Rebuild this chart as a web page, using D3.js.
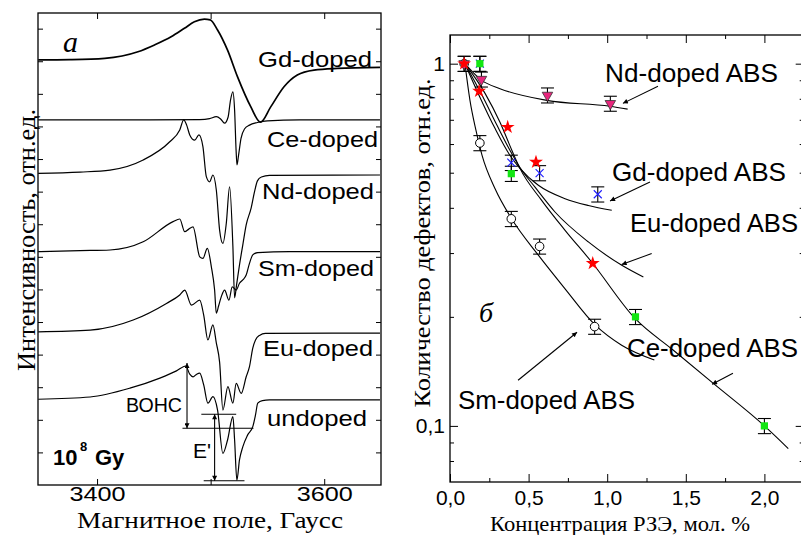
<!DOCTYPE html>
<html>
<head>
<meta charset="utf-8">
<script src="https://cdn.jsdelivr.net/npm/d3@7/dist/d3.min.js"></script>
<style>
body { margin: 0; background: #fff; }
svg { display: block; }
</style>
</head>
<body>
<svg id="fig" width="801" height="535"></svg>
<script>
// ---- Panel a: EPR spectra, [field (G), intensity (arb. units, stacked)]
const gdSpectrum = [[3348.2,13.04],[3376.3,13.05],[3406.8,13.09],[3436.0,13.29],[3450.6,13.50],[3465.2,13.75],[3476.9,14.01],[3485.7,14.21],[3494.5,14.29],[3499.6,14.27],[3506.1,13.96],[3514.9,13.34],[3523.7,12.52],[3535.4,11.60],[3543.9,11.13],[3552.9,11.60],[3564.6,12.22],[3576.3,12.58],[3591.0,12.73],[3611.4,12.78],[3649.1,12.81]];
const ceSpectrum = [[3348.2,11.20],[3446.5,11.20],[3490.4,11.21],[3499.1,11.24],[3505.0,11.30],[3508.8,11.23],[3512.3,11.10],[3515.4,11.29],[3517.5,11.81],[3519.6,12.06],[3521.1,11.50],[3522.4,10.28],[3523.2,9.82],[3524.6,10.12],[3526.8,10.64],[3529.8,10.92],[3534.2,11.04],[3541.2,11.12],[3550.0,11.17],[3578.1,11.20],[3649.1,11.20]];
const ndSpectrum = [[3348.2,9.56],[3385.1,9.60],[3411.4,9.66],[3440.6,9.97],[3464.0,10.53],[3472.8,10.89],[3476.3,11.20],[3478.9,11.04],[3481.6,10.74],[3486.0,10.58],[3489.7,10.74],[3493.2,10.38],[3496.2,9.46],[3499.1,9.30],[3502.0,9.51],[3505.0,9.05],[3507.9,7.82],[3510.8,7.41],[3513.8,8.03],[3516.7,9.15],[3519.6,7.31],[3521.1,5.74],[3522.8,6.13],[3525.4,6.75],[3528.3,7.36],[3531.3,7.98],[3535.7,8.50],[3538.6,8.99],[3541.2,9.33],[3544.7,9.45],[3551.8,9.50],[3649.1,9.51]];
const smSpectrum = [[3348.2,7.16],[3385.1,7.19],[3411.4,7.21],[3440.6,7.46],[3466.9,8.08],[3472.8,8.16],[3477.2,7.77],[3480.7,7.85],[3484.5,7.92],[3490.4,7.00],[3493.2,6.95],[3497.1,7.26],[3500.6,6.70],[3503.5,5.98],[3505.0,5.27],[3507.0,5.49],[3509.4,5.78],[3512.3,5.98],[3516.1,5.67],[3519.0,6.08],[3522.5,5.98],[3525.4,6.19],[3528.3,6.29],[3531.3,6.44],[3534.2,6.80],[3537.1,7.06],[3541.5,7.13],[3569.3,7.16],[3649.1,7.16]];
const euSpectrum = [[3348.2,4.70],[3393.9,4.75],[3431.8,5.06],[3461.1,5.57],[3472.8,5.83],[3477.2,5.98],[3483.1,5.52],[3490.4,5.67],[3493.9,5.21],[3497.6,4.45],[3502.0,4.91],[3505.0,4.36],[3507.9,3.77],[3510.8,2.30],[3515.2,3.02],[3519.6,2.51],[3522.5,3.12],[3526.9,2.81],[3531.3,3.32],[3534.2,3.63],[3537.1,4.20],[3539.5,4.45],[3543.0,4.59],[3548.2,4.65],[3649.1,4.66]];
const undopedSpectrum = [[3348.2,2.63],[3393.9,2.70],[3428.9,2.97],[3455.3,3.28],[3469.9,3.50],[3478.1,3.65],[3481.6,3.40],[3484.5,3.32],[3487.7,3.40],[3490.4,3.43],[3493.9,3.07],[3497.6,2.51],[3502.0,2.71],[3506.1,2.30],[3510.8,0.97],[3514.9,1.38],[3519.6,2.10],[3521.1,1.38],[3523.1,0.15],[3525.4,0.77],[3528.3,1.17],[3532.5,1.53],[3537.1,1.79],[3539.5,2.15],[3541.5,2.51],[3545.6,2.59],[3551.8,2.61],[3649.1,2.61]];
const spectrumNames = ["Gd-doped", "Ce-doped", "Nd-doped", "Sm-doped", "Eu-doped", "undoped"];
const fieldTicks = [3400, 3500, 3600];
const fieldLabels = [3400, 3600];

// BOHC and E' amplitude markers on the undoped spectrum
const bohcField = 3479.2, bohcTop = 3.74, bohcBottom = 1.74, bohcLineEnd = 3537.7;
const ePrimeField = 3503.5, ePrimeTop = 2.17, ePrimeBottom = 0.13;

// ---- Panel b: defect amount vs rare-earth concentration (mol %)
const ndConc = [0.09, 0.2, 0.62, 1.02];
const ndDefects = [1.0, 0.905, 0.818, 0.776];
const ndErr = [0.048, 0.043, 0.039, 0.037];
const ceConc = [0.19, 0.39, 1.18, 2.0];
const ceDefects = [1.0, 0.497, 0.2, 0.1];
const ceErr = [0.048, 0.024, 0.0096, 0.0048];
const gdConc = [0.19, 0.39, 0.57, 0.94];
const gdDefects = [1.0, 0.533, 0.499, 0.436];
const gdErr = [0.048, 0.026, 0.024, 0.021];
const euConc = [0.09, 0.185, 0.367, 0.547, 0.908];
const euDefects = [1.0, 0.84, 0.668, 0.535, 0.281];
const smConc = [0.09, 0.19, 0.39, 0.57, 0.92];
const smDefects = [1.0, 0.604, 0.373, 0.313, 0.188];
const smErr = [0.048, 0.029, 0.018, 0.015, 0.009];

// fitted curves
const ndFitX = [0.095, 0.202, 0.318, 0.615, 1.018, 1.13];
const ndFitY = [1.0, 0.899, 0.853, 0.792, 0.763, 0.749];
const gdFitX = [0.095, 0.191, 0.286, 0.382, 0.445, 0.562, 0.732, 0.88, 1.029];
const gdFitY = [1.0, 0.807, 0.663, 0.558, 0.514, 0.4616, 0.424, 0.406, 0.3937];
const euFitX = [0.095, 0.204, 0.299, 0.382, 0.445, 0.541, 0.668, 0.88, 1.093, 1.23];
const euFitY = [1.0, 0.818, 0.676, 0.576, 0.517, 0.456, 0.3895, 0.322, 0.2776, 0.2577];
const ceFitX = [0.095, 0.223, 0.318, 0.394, 0.445, 0.583, 0.732, 0.901, 1.177, 1.419, 1.675, 2.0, 2.152];
const ceFitY = [1.0, 0.828, 0.689, 0.576, 0.514, 0.4195, 0.3467, 0.2835, 0.198, 0.162, 0.131, 0.1, 0.0866];
const smFitX = [0.095, 0.127, 0.165, 0.204, 0.286, 0.392, 0.562, 0.732, 0.923, 1.092, 1.3];
const smFitY = [1.0, 0.792, 0.655, 0.558, 0.452, 0.373, 0.296, 0.239, 0.19, 0.167, 0.152];

const concTicks = [0, 0.5, 1.0, 1.5, 2.0];
const concMinor = [0.25, 0.75, 1.25, 1.75, 2.25];
const defectTicks = [0.1, 1];
const defectMinor = [0.08, 0.09, 0.2, 0.3, 0.4, 0.5, 0.6, 0.7, 0.8, 0.9];

// label arrows [fromConc, fromDefects, toConc, toDefects]
const arrows = [
    [1.323, 0.866, 1.10, 0.777],
    [1.272, 0.471, 1.018, 0.418],
    [1.283, 0.299, 1.092, 0.279],
    [1.80, 0.1397, 1.667, 0.1303],
    [0.433, 0.1337, 0.808, 0.1814]
];

const sans = "'Liberation Sans', Arial, sans-serif";
const serif = "'Liberation Serif', 'Times New Roman', serif";
const svg = d3.select("#fig");

const defs = svg.append("defs");
defs.append("marker")
    .attr("id", "head")
    .attr("viewBox", "0 0 10 10")
    .attr("refX", 10).attr("refY", 5)
    .attr("markerWidth", 8).attr("markerHeight", 5)
    .attr("markerUnits", "userSpaceOnUse")
    .attr("orient", "auto-start-reverse")
    .append("path").attr("d", "M0,0L10,5L0,10z").attr("fill", "#000");

// axis helper: inward ticks, no domain line, our own font
const axis = (parent, transform, ax, size) => parent.append("g")
    .attr("transform", transform)
    .call(ax)
    .attr("font-family", sans)
    .attr("font-size", size || 10)
    .call(g => g.select(".domain").remove());

// ================= Panel a =================
const xA = d3.scaleLinear().domain([3348, 3650]).range([38, 381]);
const yA = d3.scaleLinear().domain([0, 14.48]).range([485, 13]);
const gA = svg.append("g");

const specLine = d3.line()
    .x(d => xA(d[0]))
    .y(d => yA(d[1]))
    .curve(d3.curveMonotoneX);

const spectra = [gdSpectrum, ceSpectrum, ndSpectrum, smSpectrum, euSpectrum, undopedSpectrum];
gA.selectAll(".spec")
    .data(spectra)
    .join("path")
    .attr("class", "spec")
    .attr("d", specLine)
    .attr("fill", "none")
    .attr("stroke", "#000")
    .attr("stroke-width", (d, i) => i === 0 ? 1.7 : 1.2);

axis(gA, `translate(0,${yA(0)})`,
    d3.axisBottom(xA).tickValues(fieldTicks).tickSize(-6).tickPadding(2)
        .tickFormat(d => fieldLabels.includes(d) ? d : ""), 20)
    .selectAll("text")
    .filter(d => fieldLabels.includes(d))
    .attr("textLength", 56).attr("lengthAdjust", "spacingAndGlyphs");
axis(gA, `translate(0,${yA.range()[1]})`,
    d3.axisTop(xA).tickValues(fieldTicks).tickSize(-6).tickFormat(""));
axis(gA, `translate(${xA.range()[0]},0)`,
    d3.axisLeft(yA).tickValues(d3.range(1, 15)).tickSize(-5).tickFormat(""));
axis(gA, `translate(${xA.range()[1]},0)`,
    d3.axisRight(yA).tickValues(d3.range(1, 15)).tickSize(-5).tickFormat(""));
gA.append("rect")
    .attr("x", 38).attr("y", 13).attr("width", 343).attr("height", 472)
    .attr("fill", "none").attr("stroke", "#000").attr("stroke-width", 1.3);

// spectrum labels
const specLabelPos = [[258, 67, 114], [267, 147, 111], [262, 199, 112], [258, 276, 116], [263, 356, 110], [267, 426, 100]];
gA.selectAll(".slab")
    .data(spectrumNames)
    .join("text")
    .attr("class", "slab")
    .attr("x", (d, i) => specLabelPos[i][0])
    .attr("y", (d, i) => specLabelPos[i][1])
    .attr("textLength", (d, i) => specLabelPos[i][2])
    .attr("lengthAdjust", "spacingAndGlyphs")
    .attr("font-family", sans).attr("font-size", 22)
    .text(d => d);

// BOHC / E' markers
const ann = gA.append("g").attr("stroke", "#000").attr("stroke-width", 1.1);
ann.append("line")
    .attr("x1", xA(bohcField)).attr("x2", xA(bohcField))
    .attr("y1", yA(bohcBottom)).attr("y2", yA(bohcTop))
    .attr("marker-start", "url(#head)").attr("marker-end", "url(#head)");
ann.append("line")
    .attr("x1", xA(bohcField - 4)).attr("x2", xA(bohcLineEnd))
    .attr("y1", yA(bohcBottom)).attr("y2", yA(bohcBottom));
ann.append("line")
    .attr("x1", xA(ePrimeField)).attr("x2", xA(ePrimeField))
    .attr("y1", yA(ePrimeBottom)).attr("y2", yA(ePrimeTop))
    .attr("marker-start", "url(#head)").attr("marker-end", "url(#head)");
ann.append("line")
    .attr("x1", xA(ePrimeField - 11.7)).attr("x2", xA(ePrimeField + 19))
    .attr("y1", yA(ePrimeTop)).attr("y2", yA(ePrimeTop));
ann.append("line")
    .attr("x1", xA(ePrimeField - 9.6)).attr("x2", xA(ePrimeField + 26.3))
    .attr("y1", yA(ePrimeBottom)).attr("y2", yA(ePrimeBottom));

gA.append("text").attr("x", 126).attr("y", 412)
    .attr("font-family", sans).attr("font-size", 20)
    .attr("textLength", 56).attr("lengthAdjust", "spacingAndGlyphs")
    .text("ВОНС");
gA.append("text").attr("x", 193).attr("y", 458)
    .attr("font-family", sans).attr("font-size", 21)
    .text("E'");
gA.append("text").attr("x", 53).attr("y", 465)
    .attr("font-family", sans).attr("font-size", 22).attr("font-weight", "bold")
    .text("10");
gA.append("text").attr("x", 80).attr("y", 451)
    .attr("font-family", sans).attr("font-size", 13).attr("font-weight", "bold")
    .text("8");
gA.append("text").attr("x", 95).attr("y", 465)
    .attr("font-family", sans).attr("font-size", 22).attr("font-weight", "bold")
    .text("Gy");
gA.append("text").attr("x", 63).attr("y", 52)
    .attr("font-family", serif).attr("font-size", 30).attr("font-style", "italic")
    .text("a");

gA.append("text").attr("x", 210).attr("y", 528)
    .attr("text-anchor", "middle")
    .attr("font-family", serif).attr("font-size", 24)
    .attr("textLength", 266).attr("lengthAdjust", "spacingAndGlyphs")
    .text("Магнитное поле, Гаусс");
gA.append("text")
    .attr("transform", "translate(35,240) rotate(-90)")
    .attr("text-anchor", "middle")
    .attr("font-family", serif).attr("font-size", 25)
    .attr("textLength", 262).attr("lengthAdjust", "spacingAndGlyphs")
    .text("Интенсивность, отн.ед.");

// ================= Panel b =================
const xB = d3.scaleLinear().domain([0, 2.25]).range([450, 803.7]);
const yB = d3.scaleLog().domain([0.07, 1.2]).range([482, 35]);
const gB = svg.append("g");
const comma = d => d3.format(".1f")(d).replace(".", ",");

axis(gB, "translate(0,482)",
    d3.axisBottom(xB).tickValues(concTicks).tickSize(-8).tickPadding(8).tickFormat(comma), 21);
axis(gB, "translate(0,482)",
    d3.axisBottom(xB).tickValues(concMinor).tickSize(-4).tickFormat(""));
axis(gB, "translate(0,35)",
    d3.axisTop(xB).tickValues(concTicks).tickSize(-8).tickFormat(""));
axis(gB, "translate(0,35)",
    d3.axisTop(xB).tickValues(concMinor).tickSize(-4).tickFormat(""));
axis(gB, "translate(450,0)",
    d3.axisLeft(yB).tickValues(defectTicks).tickSize(-8).tickPadding(5)
        .tickFormat(d => d === 1 ? "1" : "0,1"), 21);
axis(gB, "translate(450,0)",
    d3.axisLeft(yB).tickValues(defectMinor).tickSize(-4).tickFormat(""));
axis(gB, "translate(803.7,0)",
    d3.axisRight(yB).tickValues(defectTicks).tickSize(-8).tickFormat(""));
axis(gB, "translate(803.7,0)",
    d3.axisRight(yB).tickValues(defectMinor).tickSize(-4).tickFormat(""));
gB.append("rect")
    .attr("x", 450).attr("y", 35).attr("width", 353.7).attr("height", 447)
    .attr("fill", "none").attr("stroke", "#000").attr("stroke-width", 1.3);

// fitted curves
const fitLine = d3.line()
    .x(d => xB(d[0]))
    .y(d => yB(d[1]))
    .curve(d3.curveMonotoneX);
const fits = [[ndFitX, ndFitY], [gdFitX, gdFitY], [euFitX, euFitY], [ceFitX, ceFitY], [smFitX, smFitY]];
gB.selectAll(".fit")
    .data(fits.map(f => d3.zip(f[0], f[1])))
    .join("path")
    .attr("class", "fit")
    .attr("d", fitLine)
    .attr("fill", "none")
    .attr("stroke", "#000")
    .attr("stroke-width", 1.1);

// error bars
const withErr = [
    d3.zip(smConc, smDefects, smErr),
    d3.zip(ceConc, ceDefects, ceErr),
    d3.zip(gdConc, gdDefects, gdErr),
    d3.zip(ndConc, ndDefects, ndErr)
].flat();
const eb = gB.append("g").attr("stroke", "#000").attr("stroke-width", 1.1);
withErr.forEach(([x, y, e]) => {
    const cx = xB(x);
    eb.append("line").attr("x1", cx).attr("x2", cx).attr("y1", yB(y - e)).attr("y2", yB(y + e));
    eb.append("line").attr("x1", cx - 6.5).attr("x2", cx + 6.5).attr("y1", yB(y - e)).attr("y2", yB(y - e));
    eb.append("line").attr("x1", cx - 6.5).attr("x2", cx + 6.5).attr("y1", yB(y + e)).attr("y2", yB(y + e));
});

// markers
gB.append("g").selectAll("circle")
    .data(d3.zip(smConc, smDefects))
    .join("circle")
    .attr("cx", d => xB(d[0])).attr("cy", d => yB(d[1])).attr("r", 4.3)
    .attr("fill", "#fff").attr("stroke", "#000").attr("stroke-width", 1);

gB.append("g").selectAll("path")
    .data(d3.zip(gdConc, gdDefects))
    .join("path")
    .attr("transform", d => `translate(${xB(d[0])},${yB(d[1])})`)
    .attr("d", "M-4,-4L4,4M-4,4L4,-4")
    .attr("stroke", "#1c1cff").attr("stroke-width", 1.1).attr("fill", "none");

gB.append("g").selectAll("path")
    .data(d3.zip(ceConc, ceDefects))
    .join("path")
    .attr("transform", d => `translate(${xB(d[0])},${yB(d[1])})`)
    .attr("d", d3.symbol(d3.symbolSquare, 52))
    .attr("fill", "#12e612");

gB.append("g").selectAll("path")
    .data(d3.zip(ndConc, ndDefects))
    .join("path")
    .attr("transform", d => `translate(${xB(d[0])},${yB(d[1])}) rotate(180)`)
    .attr("d", d3.symbol(d3.symbolTriangle, 48))
    .attr("fill", "#e8267d").attr("stroke", "#333").attr("stroke-width", 0.8);

gB.append("g").selectAll("path")
    .data(d3.zip(euConc, euDefects))
    .join("path")
    .attr("transform", d => `translate(${xB(d[0])},${yB(d[1])})`)
    .attr("d", d3.symbol(d3.symbolStar, 60))
    .attr("fill", "#ff0000");

// label arrows
gB.append("g").selectAll("line")
    .data(arrows)
    .join("line")
    .attr("x1", d => xB(d[0])).attr("y1", d => yB(d[1]))
    .attr("x2", d => xB(d[2])).attr("y2", d => yB(d[3]))
    .attr("stroke", "#000").attr("stroke-width", 1.1)
    .attr("marker-end", "url(#head)");

// series labels [text, x, baseline, width]
const seriesLabels = [
    ["Nd-doped ABS", 605, 82, 173],
    ["Gd-doped ABS", 612, 181, 174],
    ["Eu-doped ABS", 630, 232, 168],
    ["Ce-doped ABS", 627, 357, 171],
    ["Sm-doped ABS", 458, 409, 177]
];
gB.selectAll(".blab")
    .data(seriesLabels)
    .join("text")
    .attr("class", "blab")
    .attr("x", d => d[1]).attr("y", d => d[2])
    .attr("textLength", d => d[3]).attr("lengthAdjust", "spacingAndGlyphs")
    .attr("font-family", sans).attr("font-size", 26)
    .text(d => d[0]);

gB.append("text").attr("x", 479).attr("y", 322)
    .attr("font-family", serif).attr("font-size", 28).attr("font-style", "italic")
    .text("б");

gB.append("text").attr("x", 620).attr("y", 531)
    .attr("text-anchor", "middle")
    .attr("font-family", serif).attr("font-size", 21)
    .attr("textLength", 260).attr("lengthAdjust", "spacingAndGlyphs")
    .text("Концентрация РЗЭ, мол. %");
gB.append("text")
    .attr("transform", "translate(430,243) rotate(-90)")
    .attr("text-anchor", "middle")
    .attr("font-family", serif).attr("font-size", 24)
    .attr("textLength", 329).attr("lengthAdjust", "spacingAndGlyphs")
    .text("Количество дефектов, отн.ед.");
</script>
</body>
</html>
